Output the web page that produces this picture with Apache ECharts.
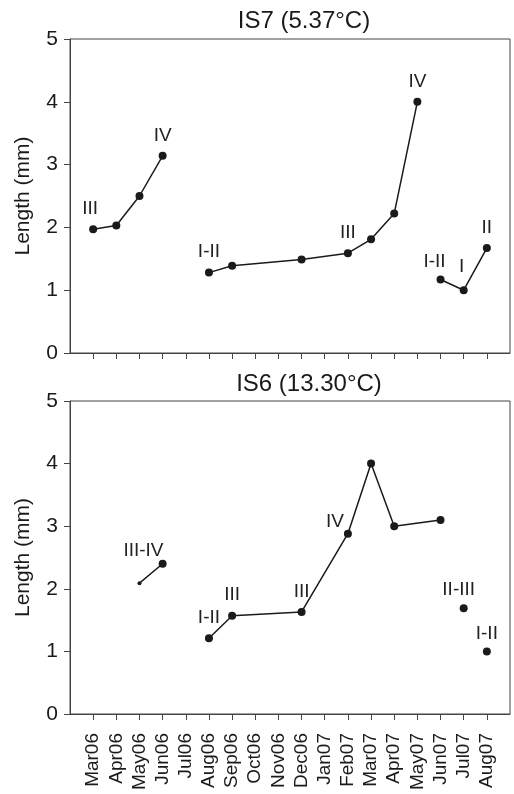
<!DOCTYPE html>
<html>
<head>
<meta charset="utf-8">
<title>Length by month</title>
<script src="https://cdn.jsdelivr.net/npm/echarts@6/dist/echarts.min.js"></script>
<style>
  html, body { margin: 0; padding: 0; background: #fff; }
  #chart { width: 514px; height: 794px; }
</style>
</head>
<body>
<div id="chart"></div>
<script>
// months on the x axis
var months = ['Mar06', 'Apr06', 'May06', 'Jun06', 'Jul06', 'Aug06', 'Sep06', 'Oct06', 'Nov06',
  'Dec06', 'Jan07', 'Feb07', 'Mar07', 'Apr07', 'May07', 'Jun07', 'Jul07', 'Aug07'];
var yTicks = [0, 1, 2, 3, 4, 5];

// IS7 (5.37°C)
var is7Length = [1.97, 2.03, 2.50, 3.14, null, 1.28, 1.39, null, null, 1.49, null, 1.59, 1.81, 2.22, 4.00, 1.17, 1.00, 1.67];
var is7Stage = ['III', '', '', 'IV', '', 'I-II', '', '', '', '', '', 'III', '', '', 'IV', 'I-II', 'I', 'II'];
var is7Breaks = ['Jun06', 'May07'];

// IS6 (13.30°C)
var is6Length = [null, null, 2.09, 2.40, null, 1.21, 1.57, null, null, 1.63, null, 2.88, 4.00, 3.00, null, 3.10, 1.69, 1.00];
var is6Stage = ['', '', 'III-IV', '', '', 'I-II', 'III', '', '', 'III', '', 'IV', '', '', '', '', 'II-III', 'I-II'];
var is6Breaks = ['Jun06', 'Jun07', 'Jul07'];

var FONT = '"Liberation Sans", Arial, sans-serif';
var INK = '#1a1a1a';
var AXIS = '#444';

// label nudges [dx, dy] and special marker sizes
var nudge = {
  'is7-Mar06': [-3, 0], 'is7-Jun07': [-6, 3], 'is7-Jul07': [-2, -3],
  'is6-May06': [4, -14], 'is6-Feb07': [-13, 9], 'is6-Jul07': [-5, 2], 'is6-Aug07': [0, 3]
};
var markSize = { 'is6-May06': 4 };

var axisMonths = [''].concat(months, ['']);

function buildSeries(key, lengths, stages, breaks, gridIdx) {
  var out = [];
  var seg = [];
  function flush() {
    if (!seg.length) return;
    out.push({
      type: 'line',
      xAxisIndex: gridIdx,
      yAxisIndex: gridIdx,
      data: seg,
      symbol: 'circle',
      symbolSize: function (v) { return markSize[key + '-' + v[0]] || 8; },
      itemStyle: { color: INK },
      lineStyle: { color: INK, width: 1.5 },
      label: {
        show: true, position: 'top', distance: 7,
        fontFamily: FONT, fontSize: 19, color: '#222'
      },
      emphasis: { disabled: true },
      animation: false
    });
    seg = [];
  }
  for (var i = 0; i < months.length; i++) {
    if (lengths[i] !== null) {
      var id = key + '-' + months[i];
      seg.push({
        value: [months[i], lengths[i]],
        label: {
          show: stages[i] !== '',
          formatter: stages[i],
          offset: nudge[id] || [0, 0]
        }
      });
    }
    if (breaks.indexOf(months[i]) >= 0) flush();
  }
  flush();
  return out;
}

function xAxis(gridIdx, showLabels) {
  return {
    type: 'category',
    gridIndex: gridIdx,
    data: axisMonths,
    boundaryGap: false,
    axisLine: { lineStyle: { color: AXIS, width: 1 } },
    axisTick: {
      interval: function (i, v) { return v !== ''; },
      length: 6, lineStyle: { color: AXIS }
    },
    axisLabel: {
      show: showLabels, interval: 0, rotate: 90, margin: 19,
      fontFamily: FONT, fontSize: 19, color: INK
    },
    splitLine: { show: false }
  };
}

function yAxis(gridIdx) {
  return {
    type: 'value',
    gridIndex: gridIdx,
    min: yTicks[0], max: yTicks[yTicks.length - 1], interval: 1,
    name: 'Length (mm)',
    nameLocation: 'middle',
    nameGap: 36,
    nameTextStyle: { fontFamily: FONT, fontSize: 21, color: INK },
    axisLine: { show: true, lineStyle: { color: AXIS, width: 1 } },
    axisTick: { show: true, length: 6, lineStyle: { color: AXIS } },
    axisLabel: { margin: 12, fontFamily: FONT, fontSize: 21, color: INK },
    splitLine: { show: false }
  };
}

var chart = echarts.init(document.getElementById('chart'), null, { renderer: 'canvas' });

chart.setOption({
  backgroundColor: '#fff',
  animation: false,
  title: [
    { text: 'IS7 (5.37°C)', left: 304, top: 9, textAlign: 'center', padding: 0,
      textStyle: { fontFamily: FONT, fontSize: 24, fontWeight: 'normal', color: INK } },
    { text: 'IS6 (13.30°C)', left: 309, top: 372, textAlign: 'center', padding: 0,
      textStyle: { fontFamily: FONT, fontSize: 24, fontWeight: 'normal', color: INK } }
  ],
  grid: [
    { left: 70, right: 4, top: 39, height: 314, show: true, borderColor: AXIS, borderWidth: 1 },
    { left: 70, right: 4, top: 401, height: 313, show: true, borderColor: AXIS, borderWidth: 1 }
  ],
  xAxis: [xAxis(0, false), xAxis(1, true)],
  yAxis: [yAxis(0), yAxis(1)],
  series: buildSeries('is7', is7Length, is7Stage, is7Breaks, 0)
    .concat(buildSeries('is6', is6Length, is6Stage, is6Breaks, 1))
});
</script>
</body>
</html>
